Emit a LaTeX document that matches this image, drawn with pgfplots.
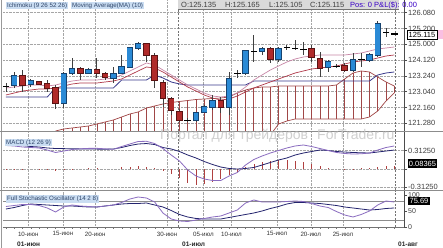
\documentclass[border=0pt]{standalone}
\usepackage{fontspec}
\setmainfont{Liberation Sans}
\usepackage{pgfplots}
\pgfplotsset{compat=1.18}
\usepackage{pgfplotstable}

\definecolor{bullC}{HTML}{2A8AD6}
\definecolor{bullE}{HTML}{16426E}
\definecolor{bearC}{HTML}{B02A2A}
\definecolor{bearE}{HTML}{5A1212}
\definecolor{tenkanC}{HTML}{C886A6}
\definecolor{maC}{HTML}{B03A4A}
\definecolor{kijunC}{HTML}{3A3A8C}
\definecolor{cloudC}{HTML}{A04646}
\definecolor{macdC}{HTML}{8A6CC0}
\definecolor{sigC}{HTML}{24246E}
\definecolor{histC}{HTML}{B04040}
\definecolor{legBG}{HTML}{CADDF2}
\definecolor{legTX}{HTML}{2E4468}
\definecolor{barBG}{HTML}{DADADA}

% candle wicks: index, high, low
\pgfplotstableread{
i h l
0 122.164 121.663
1 122.777 121.885
2 122.888 121.663
3 122.387 121.941
4 122.275 122.053
5 122.331 121.663
6 122.053 120.716
7 122.777 120.771
8 123.556 122.610
9 123.055 122.331
10 123.000 122.665
11 123.556 122.443
12 122.777 122.331
13 123.055 122.164
14 123.724 122.665
15 124.169 123.000
16 124.448 124.002
17 124.392 123.334
18 123.835 121.885
19 122.331 120.827
20 121.384 120.382
21 120.716 119.992
22 120.214 119.992
23 120.549 119.992
24 120.939 120.493
25 121.496 120.660
26 121.384 120.493
27 122.777 120.382
28 122.888 122.443
29 124.002 122.610
30 124.838 123.334
31 124.169 123.724
32 124.169 123.278
33 124.169 123.334
34 124.281 124.002
35 124.559 124.002
36 124.448 123.724
37 124.281 123.334
38 123.891 122.498
39 123.445 122.777
40 123.222 123.000
41 123.278 122.777
42 123.835 122.777
43 123.835 123.055
44 123.835 123.334
45 125.617 123.612
46 125.227 124.726
47 124.949 124.838
}\wicks

% bullish bodies: index, open (low end), close (high end)
\pgfplotstableread{
i lo hi
1 122.053 122.554
3 122.108 122.275
7 121.050 122.665
8 122.721 122.944
10 122.721 122.888
13 122.443 122.665
14 122.721 123.055
15 123.055 124.113
16 124.113 124.336
23 120.103 120.493
24 120.549 120.827
25 120.827 121.161
27 120.827 122.387
29 122.721 123.946
31 123.946 124.058
33 123.501 124.058
39 123.055 123.334
42 122.888 123.445
44 123.445 123.724
45 123.724 125.450
}\bull

% bearish bodies: index, close (low end), open (high end)
\pgfplotstableread{
i lo hi
2 122.053 122.554
4 122.108 122.220
5 121.885 122.108
6 121.050 121.885
9 122.721 122.944
11 122.721 122.888
12 122.498 122.665
17 123.724 124.336
18 122.331 123.668
19 121.328 122.164
20 120.660 121.273
21 120.103 120.549
26 120.827 121.161
32 123.501 124.058
37 123.612 124.058
38 123.000 123.501
41 122.888 123.111
}\bear

% doji candles
\pgfplotstableread{
i v
0 121.997
22 120.103
28 122.721
30 123.946
34 124.169
35 124.113
36 124.058
40 123.111
43 123.501
46 125.004
}\doji

% ichimoku / MA lines
\pgfplotstableread{
i ten ma kij
0 121.885 121.496 121.384
1 121.941 121.607 121.384
2 121.997 121.718 121.384
3 122.053 121.774 121.384
4 122.053 121.830 121.384
5 121.997 121.830 121.384
6 122.053 121.885 121.885
7 122.164 121.997 121.885
8 122.275 122.108 121.885
9 122.331 122.164 121.885
10 122.331 122.164 121.885
11 122.331 122.164 121.885
12 122.387 122.220 121.885
13 122.443 122.275 121.885
14 122.610 122.387 122.331
15 122.833 122.610 122.331
16 123.055 122.833 122.331
17 123.278 123.055 122.331
18 123.167 123.000 122.610
19 122.888 122.777 122.443
20 122.610 122.498 122.220
21 122.331 122.220 122.108
22 122.053 121.941 122.053
23 121.830 121.718 122.053
24 121.607 121.496 122.053
25 121.440 121.328 122.053
26 121.384 121.217 122.053
27 121.440 121.273 122.053
28 121.607 121.440 122.053
29 121.941 121.663 122.053
30 122.331 121.885 122.275
31 122.610 122.053 122.275
32 122.888 122.220 122.275
33 123.111 122.387 122.275
34 123.334 122.554 122.275
35 123.501 122.721 122.275
36 123.612 122.833 122.275
37 123.668 122.944 122.275
38 123.724 123.000 122.275
39 123.724 123.055 122.275
40 123.724 123.111 122.275
41 123.724 123.222 122.275
42 123.779 123.334 122.275
43 123.835 123.389 122.275
44 123.946 123.445 122.275
45 124.058 123.556 122.610
46 124.113 123.668 122.721
47 124.169 123.724 122.777
}\lines

% ichimoku cloud: span A, span B
\pgfplotstableread{
i a b
6 119.490 119.267
7 119.602 119.267
8 119.658 119.267
9 119.713 119.267
10 119.769 119.267
11 119.880 119.267
12 119.992 119.267
13 120.103 119.267
14 120.270 119.267
15 120.437 119.267
16 120.549 119.267
17 120.771 119.267
18 120.883 119.267
19 120.994 119.267
20 121.078 119.267
21 121.134 119.267
22 121.189 119.267
23 121.245 119.267
24 121.273 119.267
25 121.300 119.267
26 121.328 119.267
27 121.384 119.267
28 121.607 119.267
29 121.774 119.267
30 121.885 119.267
31 121.941 119.267
32 121.941 119.267
33 121.997 119.880
34 121.997 120.047
35 121.997 120.159
36 121.997 120.159
37 121.997 120.159
38 121.997 120.159
39 121.997 120.159
40 122.053 120.159
41 122.387 120.159
42 122.721 120.159
43 122.833 120.159
44 122.777 120.270
45 122.498 120.604
46 122.220 121.161
47 121.997 121.607
}\cloud

% MACD: macd line, signal, histogram
\pgfplotstableread{
i m s h
0 0.401 0.434 -0.009
1 0.393 0.418 -0.009
2 0.376 0.401 -0.009
3 0.367 0.384 0.000
4 0.359 0.376 -0.009
5 0.324 0.359 -0.017
6 0.282 0.350 -0.026
7 0.307 0.348 -0.017
8 0.333 0.345 -0.009
9 0.346 0.343 0.000
10 0.352 0.342 0.009
11 0.353 0.340 0.009
12 0.345 0.338 0.000
13 0.336 0.342 0.000
14 0.384 0.367 0.026
15 0.427 0.401 0.034
16 0.470 0.427 0.043
17 0.473 0.435 0.034
18 0.435 0.418 0.017
19 0.350 0.367 -0.034
20 0.239 0.342 -0.085
21 0.137 0.299 -0.154
22 -0.017 0.239 -0.239
23 -0.120 0.188 -0.273
24 -0.171 0.128 -0.256
25 -0.196 0.077 -0.222
26 -0.196 0.034 -0.171
27 -0.120 0.009 -0.102
28 -0.060 0.000 -0.043
29 0.068 0.009 0.034
30 0.162 0.026 0.085
31 0.222 0.068 0.120
32 0.273 0.111 0.145
33 0.316 0.154 0.154
34 0.359 0.188 0.154
35 0.393 0.239 0.137
36 0.410 0.273 0.120
37 0.384 0.299 0.085
38 0.350 0.324 0.051
39 0.316 0.316 0.017
40 0.282 0.299 0.000
41 0.265 0.290 -0.009
42 0.256 0.282 -0.009
43 0.260 0.277 0.009
44 0.273 0.273 0.017
45 0.324 0.290 0.034
46 0.367 0.307 0.051
47 0.393 0.324 0.051
}\macd

% Full stochastic: %K, %D
\pgfplotstableread{
i k d
0 64.1 56.25
1 67.2 60.9
2 70.3 67.2
3 70.3 71.9
4 67.2 70.3
5 59.4 68.75
6 46.9 67.2
7 62.5 65.6
8 68.75 65.6
9 65.6 64.1
10 64.1 62.5
11 62.5 62.5
12 65.6 65.6
13 68.75 68.75
14 76.6 71.9
15 87.5 73.4
16 93.75 73.4
17 90.6 75.0
18 78.1 68.75
19 43.75 62.5
20 25.0 51.6
21 18.75 39.1
22 17.2 31.25
23 21.9 26.6
24 26.6 25.0
25 31.25 25.0
26 34.4 25.0
27 43.75 29.7
28 53.1 34.4
29 75.0 39.1
30 84.4 43.75
31 78.1 50.0
32 78.1 57.8
33 78.1 64.1
34 79.7 71.9
35 81.25 76.6
36 79.7 76.6
37 73.4 75.0
38 65.6 73.4
39 60.9 70.3
40 48.4 67.2
41 37.5 62.5
42 31.25 59.4
43 39.1 56.25
44 50.0 53.1
45 68.75 54.7
46 81.25 57.8
47 78.1 59.4
}\stoch

\pgfplotsset{
  panel/.style={
    scale only axis, width=401pt,
    xmin=-0.36, xmax=48.18,
    axis x line*=bottom, axis y line*=right,
    x axis line style={draw=none},
    y axis line style={color=black!70, line width=0.6pt},
    xtick={2.7,6.9,10.8,19.5,23.9,27.3,32.8,36.9,40.8},
    xticklabels={},
    major x tick style={draw=none},
    xmajorgrids, ymajorgrids,
    grid style={densely dotted, color=black!35, line width=0.5pt},
    tick align=outside, major tick length=3pt,
    ytick style={color=black!70, line width=0.5pt},
    yticklabel style={font=\fontsize{7.5}{8}\selectfont, color=black!75, inner sep=1pt},
    extra x ticks={20.82,47.1}, extra x tick labels={},
    extra x tick style={grid=major, major grid style={dash pattern=on 2pt off 1.5pt, color=black!55, line width=0.6pt}, major tick length=0pt},
  },
  body/.style n args={2}{draw=none, mark=none, forget plot,
    error bars/.cd, y dir=plus, y explicit, error mark=none,
    error bar style={line width=#1, draw=#2, solid}},
}

\begin{document}
\begin{tikzpicture}
\path[use as bounding box, fill=white] (0pt,0pt) rectangle (443pt,248pt);

%------------------ price panel
\begin{scope}[shift={(3pt,117pt)}]
\begin{axis}[panel, at={(0pt,0pt)}, anchor=south west, height=131pt,
  ymin=119.490, ymax=126.787,
  ytick={119.920,120.800,121.680,122.560,123.440,124.320,125.200,126.080},
  yticklabels={121.280,122.160,123.040,123.240,124.120,125.000,125.200,126.080}]
\addplot[body={0.7pt}{cloudC}] table[x=i, y=b, y error plus expr=\thisrow{a}-\thisrow{b}] {\cloud};
\addplot[cloudC, line width=0.7pt, mark=none] table[x=i, y=a] {\cloud};
\addplot[cloudC, line width=0.7pt, mark=none] table[x=i, y=b] {\cloud};
\addplot[kijunC, line width=0.8pt, mark=none] table[x=i, y=kij] {\lines};
\addplot[maC, line width=0.7pt, mark=none] table[x=i, y=ma] {\lines};
\addplot[tenkanC, line width=0.7pt, mark=none] table[x=i, y=ten] {\lines};
\addplot[body={0.8pt}{black!75}] table[x=i, y=l, y error plus expr=\thisrow{h}-\thisrow{l}] {\wicks};
\addplot[body={6.4pt}{bullE}] table[x=i, y expr=\thisrow{lo}-0.03, y error plus expr=\thisrow{hi}-\thisrow{lo}+0.06] {\bull};
\addplot[body={4.8pt}{bullC}] table[x=i, y=lo, y error plus expr=\thisrow{hi}-\thisrow{lo}] {\bull};
\addplot[body={6.4pt}{bearE}] table[x=i, y expr=\thisrow{lo}-0.03, y error plus expr=\thisrow{hi}-\thisrow{lo}+0.06] {\bear};
\addplot[body={4.8pt}{bearC}] table[x=i, y=lo, y error plus expr=\thisrow{hi}-\thisrow{lo}] {\bear};
\addplot[only marks, mark=-, mark size=3.3pt, mark options={line width=0.8pt, draw=black}] table[x=i, y=v] {\doji};
\addplot[only marks, mark=-, mark size=3.5pt, mark options={line width=2pt, draw=black}] coordinates {(47,124.893)};
\end{axis}
\end{scope}

%------------------ MACD panel
\begin{scope}[shift={(3pt,58pt)}]
\begin{axis}[panel, at={(0pt,0pt)}, anchor=south west, height=58pt,
  ymin=-0.3586, ymax=0.632,
  ytick={-0.3125,0,0.3125}, yticklabels={-0.31250,,0.31250}]
\addplot[ycomb, histC, line width=0.6pt, mark=none] table[x=i, y=h] {\macd};
\addplot[sigC, line width=0.8pt, mark=none] table[x=i, y=s] {\macd};
\addplot[macdC, line width=0.8pt, mark=none] table[x=i, y=m] {\macd};
\end{axis}
\end{scope}

%------------------ Stochastic panel
\begin{scope}[shift={(3pt,21pt)}]
\begin{axis}[panel, at={(0pt,0pt)}, anchor=south west, height=36pt,
  ymin=0, ymax=112.5, ymajorgrids=false,
  ytick={0,50,100}, yticklabels={0,50,100},
  yticklabel style={font=\fontsize{7}{8}\selectfont},
  x axis line style={draw=black!55, line width=0.6pt},
  xticklabels={10-июн,15-июн,20-июн,30-июн,05-июл,10-июл,15-июл,20-июл,25-июл},
  xticklabel style={font=\fontsize{6.2}{7}\selectfont, color=black!80, inner sep=1.5pt},
  minor xtick={0,1,...,47}, minor x tick style={draw=black!55}, minor tick length=2pt,
  extra y ticks={20,80}, extra y tick labels={},
  extra y tick style={grid=major, major grid style={solid, color=black!45, line width=0.6pt}, major tick length=0pt}]
\addplot[sigC, line width=0.8pt, mark=none] table[x=i, y=d] {\stoch};
\addplot[macdC, line width=0.8pt, mark=none] table[x=i, y=k] {\stoch};
\end{axis}
\end{scope}

\begin{scope}[x=1pt, y=1pt]
\draw[black!40, line width=1pt] (1.5,0) -- (1.5,248);
\draw[black!45, line width=1.2pt] (0,116.5) -- (443,116.5);
\draw[black!45, line width=1.2pt] (0,57.5) -- (443,57.5);

\node[anchor=base west, inner sep=0, text=black!22, opacity=0.85, font=\fontsize{14}{14}\selectfont] at (160,108) {Портал для трейдеров};
\node[anchor=base west, inner sep=0, text=black!22, opacity=0.85, font=\fontsize{14}{14}\selectfont] at (317,108) {ForTrader.ru};

\fill[barBG] (178,248) rectangle (399,238.5);
\draw[black!55, line width=0.8pt] (178,238.5) -- (399,238.5);
\begin{scope}[every node/.style={anchor=base west, inner sep=0, font=\fontsize{7.5}{8}\selectfont}]
\node[text=black!75] at (181,240.5) {O:125.135};
\node[text=black!75] at (225,240.5) {H:125.165};
\node[text=black!75] at (269,240.5) {L:125.105};
\node[text=black!75] at (310,240.5) {C:125.115};
\node[text=blue!55!violet] at (350,240.5) {Pos: 0 P\&L(\$): 0.00};
\end{scope}

\begin{scope}[every node/.style={anchor=west, fill=legBG, text=legTX, inner xsep=1pt, inner ysep=1pt, font=\fontsize{6.2}{7}\selectfont}]
\node at (6,242.5) {Ichimoku (9 26 52 26)};
\node at (71,242.5) {Moving Average(MA) (10)};
\node at (5,105.5) {MACD (12 26 9)};
\node at (6,49) {Full Stochastic Oscillator (14 2 8)};
\end{scope}

\node[draw=black, line width=0.6pt, fill=white, inner sep=0.5pt, minimum width=30pt, minimum height=9pt, font=\fontsize{7.5}{8}\selectfont] at (422,213) {125.115};
\fill[magenta!25] (437.5,208.5) rectangle (443,217.5);
\node[fill=black, text=white, inner sep=0.5pt, minimum width=29pt, minimum height=9pt, font=\fontsize{7.5}{8}\selectfont] at (422.5,84.5) {0.08365};
\node[fill=black, text=white, inner sep=0.5pt, minimum width=22pt, minimum height=8pt, font=\fontsize{7.5}{8}\selectfont] at (419,47) {75.69};

\begin{scope}[every node/.style={anchor=base west, inner sep=0, text=black!85, font=\bfseries\fontsize{6.5}{7}\selectfont}]
\node at (17,1.5) {01-июн};
\node at (182,1.5) {01-июл};
\node at (398,1.5) {01-авг};
\end{scope}
\end{scope}
\end{tikzpicture}
\end{document}
